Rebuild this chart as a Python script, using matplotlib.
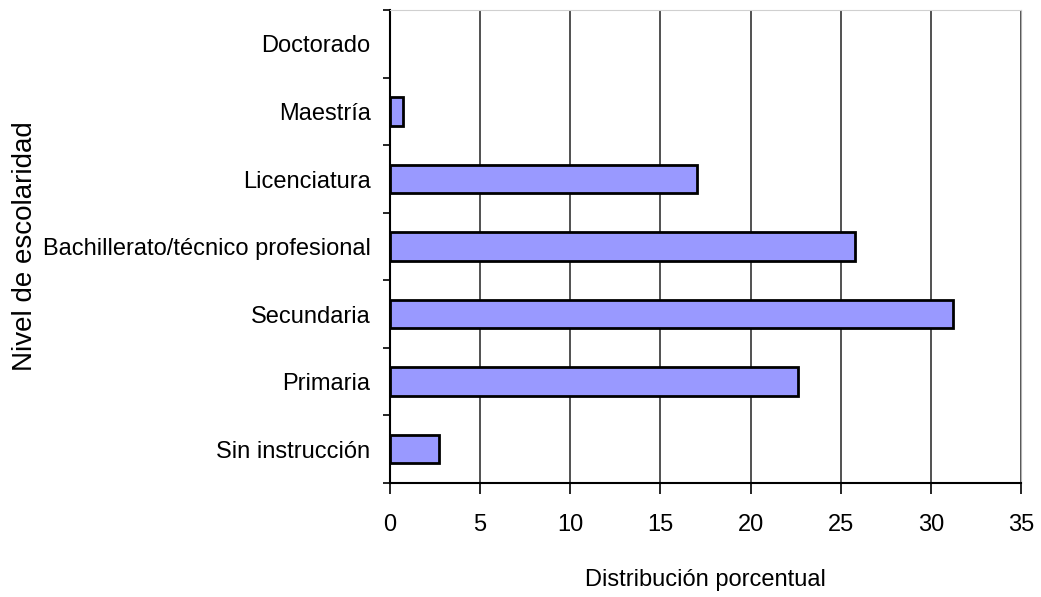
import numpy as np
import matplotlib.pyplot as plt

# Niveles de escolaridad (de abajo hacia arriba)
niveles = ['Sin instrucción', 'Primaria', 'Secundaria',
           'Bachillerato/técnico profesional', 'Licenciatura',
           'Maestría', 'Doctorado']
porcentajes = [2.7, 22.6, 31.2, 25.8, 17.0, 0.7, 0.0]
xticks = [0, 5, 10, 15, 20, 25, 30, 35]

plt.rcParams['font.family'] = ['Liberation Sans', 'DejaVu Sans']

fig = plt.figure(figsize=(10.41, 5.97), dpi=100)
ax = fig.add_axes([0.3746, 0.191, 0.6064, 0.792])

y = np.arange(len(niveles))
# sin borde cuando el valor es cero (Doctorado)
anchos = [2 if p > 0 else 0 for p in porcentajes]
ax.barh(y, porcentajes, height=0.42, color='#9999FF', edgecolor='black',
        linewidth=anchos, zorder=3)

ax.set_xlim(0, 35)
ax.set_ylim(-0.5, len(niveles) - 0.5)
ax.set_xticks(xticks)
ax.set_xticklabels([str(t) for t in xticks], fontsize=17)
ax.xaxis.grid(True, color='#333333', linewidth=1.2, zorder=0)

# etiquetas en el centro, marcas en los limites
ax.set_yticks(y)
ax.set_yticklabels(niveles, fontsize=17)
ax.tick_params(axis='y', length=0, pad=14)
ax.set_yticks(np.arange(-0.5, len(niveles)), minor=True)
ax.tick_params(axis='y', which='minor', length=5, width=1.2, direction='out')
ax.tick_params(axis='x', length=8, width=1.2, direction='out', pad=14)

for s in ['left', 'bottom']:
    ax.spines[s].set_linewidth(1.5)
ax.spines['right'].set_color('#b0b0b0')
ax.spines['top'].set_color('#d0d0d0')

ax.set_xlabel('Distribución porcentual', fontsize=17, labelpad=24)
ax.set_ylabel('Nivel de escolaridad', fontsize=20)
ax.yaxis.set_label_coords(-0.557, 0.5)

fig.savefig('out.png', dpi=100)
